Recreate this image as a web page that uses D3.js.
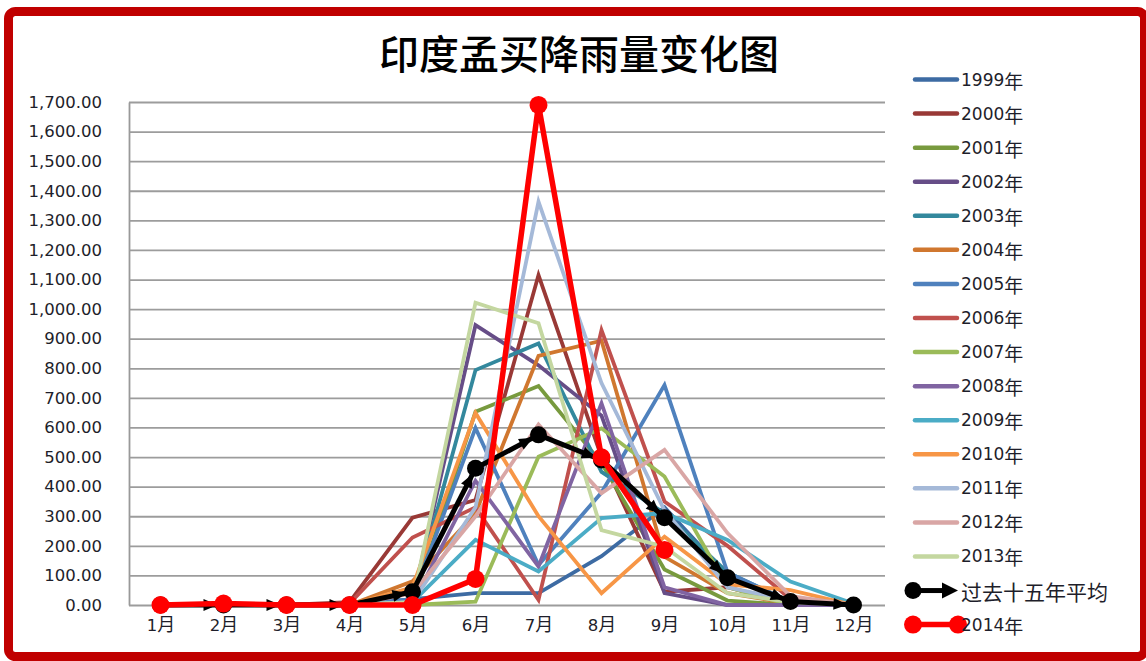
<!DOCTYPE html>
<html>
<head>
<meta charset="utf-8">
<script src="https://cdn.jsdelivr.net/npm/d3@7"></script>
<style>
  html, body { margin: 0; padding: 0; background: #fff; }
  svg { display: block; }
</style>
</head>
<body>
<svg id="chart" width="1146" height="661"></svg>
<script>
// Monthly rainfall, Mumbai (mm)
const months = ["1月", "2月", "3月", "4月", "5月", "6月", "7月", "8月", "9月", "10月", "11月", "12月"];
const yTicks = [0, 100, 200, 300, 400, 500, 600, 700, 800, 900, 1000, 1100, 1200, 1300, 1400, 1500, 1600, 1700];

const yearNames = ["1999年", "2000年", "2001年", "2002年", "2003年", "2004年", "2005年", "2006年",
  "2007年", "2008年", "2009年", "2010年", "2011年", "2012年", "2013年"];
const yearColors = ["#3d6ba3", "#993936", "#789a3e", "#664d87", "#33889d", "#d0772f", "#4f81bd", "#c0504d",
  "#9bbb59", "#8064a2", "#4bacc6", "#f79646", "#a5b9d8", "#d9a6a5", "#c4d7a0"];

const s1999 = [0, 0, 0, 0, 20, 40, 40, 165, 330, 100, 10, 0];
const s2000 = [0, 0, 0, 10, 295, 355, 1115, 500, 45, 60, 5, 0];
const s2001 = [0, 0, 0, 0, 5, 653, 740, 480, 120, 15, 0, 0];
const s2002 = [0, 0, 0, 0, 15, 946, 810, 640, 40, 0, 0, 0];
const s2003 = [0, 0, 0, 0, 15, 794, 884, 450, 310, 110, 10, 0];
const s2004 = [0, 0, 0, 0, 80, 310, 842, 893, 163, 40, 5, 0];
const s2005 = [0, 0, 0, 0, 20, 598, 135, 380, 743, 110, 10, 0];
const s2006 = [0, 0, 0, 5, 228, 330, 17, 929, 350, 200, 20, 0];
const s2007 = [0, 0, 0, 0, 0, 11, 501, 597, 434, 60, 0, 0];
const s2008 = [0, 0, 0, 0, 5, 420, 130, 682, 60, 0, 0, 0];
const s2009 = [0, 0, 0, 0, 10, 220, 113, 294, 311, 220, 79, 5];
const s2010 = [0, 0, 0, 0, 60, 649, 300, 40, 231, 70, 50, 0];
const s2011 = [0, 0, 0, 0, 10, 330, 1363, 750, 320, 60, 15, 0];
const s2012 = [0, 0, 0, 0, 40, 300, 610, 378, 524, 243, 30, 0];
const s2013 = [0, 0, 0, 0, 10, 1022, 952, 253, 197, 40, 10, 0];

const avgName = "过去十五年平均";
const avg15 = [0, 0, 0, 0, 45, 462, 575, 490, 295, 92, 12, 0];

const name2014 = "2014年";
const s2014 = [0, 5, 0, 0, 0, 88, 1690, 499, 186, null, null, null];

const titleText = "印度孟买降雨量变化图";

const yearValues = [s1999, s2000, s2001, s2002, s2003, s2004, s2005, s2006,
  s2007, s2008, s2009, s2010, s2011, s2012, s2013];

const svg = d3.select("#chart");

// Red rounded frame
svg.append("rect")
  .attr("x", 8.5).attr("y", 11.5)
  .attr("width", 1136).attr("height", 645)
  .attr("rx", 7).attr("ry", 7)
  .attr("fill", "#fff")
  .attr("stroke", "#c00000")
  .attr("stroke-width", 9);

// Mixed-script text: Latin digits in DejaVu Sans, CJK glyphs in Noto Sans CJK
function mixedText(sel, str, latinSize, cjkSize) {
  sel.text(null);
  const runs = str.match(/[\u0000-\u00ff]+|[^\u0000-\u00ff]+/g) || [];
  runs.forEach(r => {
    const latin = /^[\u0000-\u00ff]+$/.test(r);
    sel.append("tspan")
      .attr("font-family", latin ? "'DejaVu Sans', Verdana, sans-serif" : "'Noto Sans CJK SC', sans-serif")
      .attr("font-size", latin ? latinSize : cjkSize)
      .text(r);
  });
}

// Title
svg.append("text")
  .attr("x", 579).attr("y", 52)
  .attr("text-anchor", "middle")
  .attr("dominant-baseline", "central")
  .attr("font-family", "'Noto Sans CJK SC', sans-serif")
  .attr("font-weight", 500)
  .attr("font-size", 40)
  .attr("fill", "#000")
  .text(titleText);

const plot = { left: 129, right: 885, top: 102, bottom: 605 };

const x = d3.scalePoint().domain(months).range([plot.left, plot.right]).padding(0.5);
const y = d3.scaleLinear().domain([0, 1700]).range([plot.bottom, plot.top]);

// Y axis with gridlines
const yAxis = svg.append("g")
  .attr("transform", `translate(${plot.left},0)`)
  .call(d3.axisLeft(y)
    .tickValues(yTicks)
    .tickFormat(d3.format(",.2f"))
    .tickSizeInner(-(plot.right - plot.left))
    .tickSizeOuter(0)
    .tickPadding(27));
yAxis.select(".domain").attr("stroke", "#999").attr("stroke-width", 1.8);
yAxis.selectAll(".tick line").attr("stroke", "#9c9c9c").attr("stroke-width", 1.8);
yAxis.selectAll(".tick text")
  .attr("font-family", "'DejaVu Sans', Verdana, sans-serif")
  .attr("font-size", 16.5)
  .attr("fill", "#1e1e2a");

// X axis labels
const xAxis = svg.append("g")
  .attr("transform", `translate(0,${plot.bottom})`)
  .call(d3.axisBottom(x).tickSize(0).tickPadding(19));
xAxis.select(".domain").remove();
xAxis.selectAll(".tick text").each(function (d) {
  mixedText(d3.select(this), d, 16.5, 18);
}).attr("fill", "#1e1e2a");

const line = d3.line()
  .defined(d => d.v != null)
  .x(d => x(d.m))
  .y(d => y(d.v));

const toPoints = vals => months.map((m, i) => ({ m, v: vals[i] }));

// Yearly series
const series = svg.append("g").attr("fill", "none").attr("stroke-linejoin", "miter");
yearValues.forEach((vals, i) => {
  series.append("path")
    .datum(toPoints(vals))
    .attr("d", line)
    .attr("stroke", yearColors[i])
    .attr("stroke-width", 3.8);
});

// Arrowhead marker for the average line
const defs = svg.append("defs");
defs.append("marker")
  .attr("id", "arrow")
  .attr("viewBox", "0 -6 14 12")
  .attr("refX", 20).attr("refY", 0)
  .attr("markerWidth", 14).attr("markerHeight", 12)
  .attr("markerUnits", "userSpaceOnUse")
  .attr("orient", "auto")
  .style("overflow", "visible")
  .append("path")
  .attr("d", "M0,-6L14,0L0,6Z")
  .attr("fill", "#000");

// Fifteen-year average: segments ending in arrowheads, circle markers
const avgPts = toPoints(avg15);
const avgG = svg.append("g");
d3.pairs(avgPts).forEach(([a, b]) => {
  avgG.append("line")
    .attr("x1", x(a.m)).attr("y1", y(a.v))
    .attr("x2", x(b.m)).attr("y2", y(b.v))
    .attr("stroke", "#000").attr("stroke-width", 5)
    .attr("marker-end", "url(#arrow)");
});
avgG.selectAll("circle")
  .data(avgPts)
  .join("circle")
  .attr("cx", d => x(d.m)).attr("cy", d => y(d.v))
  .attr("r", 8.5).attr("fill", "#000");

// 2014
const pts2014 = toPoints(s2014);
svg.append("path")
  .datum(pts2014)
  .attr("d", line)
  .attr("fill", "none")
  .attr("stroke", "#ff0000")
  .attr("stroke-width", 5.5)
  .attr("stroke-linejoin", "miter");
svg.append("g").selectAll("circle")
  .data(pts2014.filter(d => d.v != null))
  .join("circle")
  .attr("cx", d => x(d.m)).attr("cy", d => y(d.v))
  .attr("r", 9).attr("fill", "#ff0000");

// Legend
const legendItems = yearNames.map((n, i) => ({ name: n, color: yearColors[i], kind: "line" }))
  .concat([{ name: avgName, color: "#000", kind: "avg" }, { name: name2014, color: "#ff0000", kind: "red" }]);
const legend = svg.append("g");
legendItems.forEach((it, i) => {
  const cy = 79.5 + i * 34.07;
  const g = legend.append("g");
  if (it.kind === "line") {
    g.append("line")
      .attr("x1", 915).attr("x2", 957).attr("y1", cy).attr("y2", cy)
      .attr("stroke", it.color).attr("stroke-width", 4.5).attr("stroke-linecap", "round");
  } else if (it.kind === "avg") {
    g.append("line")
      .attr("x1", 913).attr("x2", 945).attr("y1", cy).attr("y2", cy)
      .attr("stroke", "#000").attr("stroke-width", 5);
    g.append("path")
      .attr("d", `M942,${cy - 8}L958,${cy}L942,${cy + 8}Z`).attr("fill", "#000");
    g.append("circle").attr("cx", 913).attr("cy", cy).attr("r", 8.5).attr("fill", "#000");
  } else {
    g.append("line")
      .attr("x1", 913).attr("x2", 958).attr("y1", cy).attr("y2", cy)
      .attr("stroke", "#ff0000").attr("stroke-width", 5.5);
    g.append("circle").attr("cx", 913).attr("cy", cy).attr("r", 9).attr("fill", "#ff0000");
    g.append("circle").attr("cx", 958).attr("cy", cy).attr("r", 9).attr("fill", "#ff0000");
  }
  const t = g.append("text")
    .attr("x", 961).attr("y", cy)
    .attr("dominant-baseline", "central")
    .attr("fill", "#1e1e2a");
  mixedText(t, it.name, 17, it.kind === "avg" ? 21 : 19);
});
</script>
</body>
</html>
